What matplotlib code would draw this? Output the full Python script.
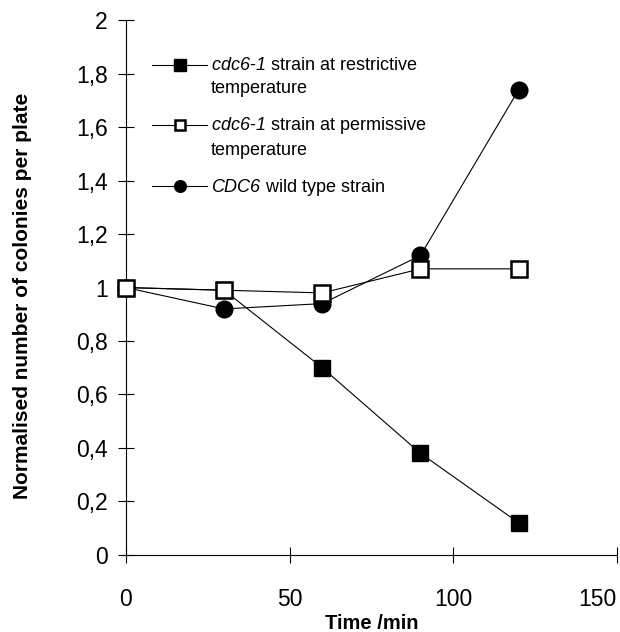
import matplotlib
matplotlib.use("Agg")
import matplotlib.pyplot as plt
from matplotlib.ticker import FuncFormatter
from matplotlib.legend_handler import HandlerLine2D
from matplotlib.transforms import Affine2D

plt.rcParams['font.family'] = ['Liberation Sans', 'DejaVu Sans']
plt.rcParams['mathtext.fontset'] = 'custom'
plt.rcParams['mathtext.it'] = 'Liberation Sans:italic'
plt.rcParams['mathtext.rm'] = 'Liberation Sans:italic'

# donnees
temps = [0, 30, 60, 90, 120]
restrictive = [1.0, 0.99, 0.70, 0.38, 0.12]
permissive = [1.0, 0.99, 0.98, 1.07, 1.07]
sauvage = [1.0, 0.92, 0.94, 1.12, 1.74]

labels = [r"$cdc6$-$1$ strain at restrictive" + "\ntemperature",
          r"$cdc6$-$1$ strain at permissive" + "\ntemperature",
          r"$CDC6$ wild type strain"]


class HandlerHaut(HandlerLine2D):
    # poignee alignee sur la premiere ligne du texte
    def __init__(self, dy, **kw):
        super().__init__(**kw)
        self.dy = dy

    def create_artists(self, legend, orig_handle, xdescent, ydescent,
                       width, height, fontsize, trans):
        trans = trans + Affine2D().translate(0, self.dy)
        return super().create_artists(legend, orig_handle, xdescent, ydescent,
                                      width, height, fontsize, trans)


fig = plt.figure(figsize=(6.2, 6.32), dpi=100)
ax = fig.add_axes([0.203, 0.122, 0.792, 0.846])

l1, = ax.plot(temps, restrictive, color='black', lw=0.8, marker='s', ms=12,
              mfc='black', mec='black', label=labels[0], zorder=3)
l2, = ax.plot(temps, permissive, color='black', lw=0.8, marker='s', ms=11,
              mfc='white', mec='black', mew=1.8, label=labels[1], zorder=4)
l3, = ax.plot(temps, sauvage, color='black', lw=0.8, marker='o', ms=12,
              mfc='black', mec='black', label=labels[2], zorder=2)
for line in ax.get_lines():
    line.set_clip_on(False)

ax.set_xlim(0, 150)
ax.set_ylim(0, 2)
ax.set_xticks([0, 50, 100, 150])
ax.set_yticks([0, 0.2, 0.4, 0.6, 0.8, 1.0, 1.2, 1.4, 1.6, 1.8, 2.0])
ax.yaxis.set_major_formatter(FuncFormatter(
    lambda v, p: ("%g" % round(v, 1)).replace('.', ',')))
ax.tick_params(direction='inout', length=12, width=0.8, labelsize=16.5)
ax.tick_params(axis='x', pad=18)
ax.tick_params(axis='y', pad=7)
ax.get_xticklabels()[-1].set_horizontalalignment('right')
ax.get_xticklabels()[-1].set_x(151)
for s in ['top', 'right']:
    ax.spines[s].set_visible(False)
for s in ['left', 'bottom']:
    ax.spines[s].set_linewidth(0.8)

ax.set_xlabel("Time /min", fontsize=14.5, fontweight='bold', labelpad=2)
ax.set_ylabel("Normalised number of colonies per plate", fontsize=15,
              fontweight='bold')
ax.yaxis.set_label_coords(-0.191, 0.484)

leg = ax.legend(loc='upper left', bbox_to_anchor=(0.039, 0.944),
                frameon=False, fontsize=13, handlelength=3.05,
                handletextpad=0.2, markerscale=0.7, labelspacing=1.0,
                borderaxespad=0,
                handler_map={l1: HandlerHaut(12), l2: HandlerHaut(12)})
for t in leg.get_texts():
    t.set_linespacing(1.45)

fig.savefig("out.png", dpi=100)
